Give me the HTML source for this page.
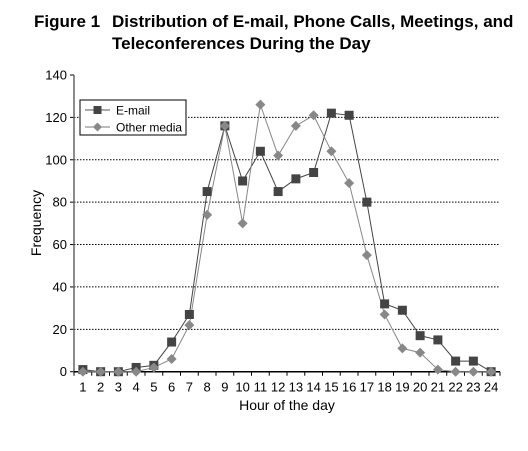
<!DOCTYPE html>
<html><head><meta charset="utf-8"><style>
body{margin:0;background:#fff;width:528px;height:446px;overflow:hidden;font-family:"Liberation Sans",sans-serif}
</style></head><body>
<svg width="528" height="446" xmlns="http://www.w3.org/2000/svg" font-family="Liberation Sans, sans-serif">
<text x="34" y="27" font-size="17" font-weight="bold">Figure 1</text>
<text x="112" y="27" font-size="17" font-weight="bold">Distribution of E-mail, Phone Calls, Meetings, and</text>
<text x="112" y="49" font-size="17" font-weight="bold">Teleconferences During the Day</text>
<g id="grid"></g><g id="axes"></g><g id="series"></g>
<text x="41" y="223" font-size="14" text-anchor="middle" transform="rotate(-90 41 223)">Frequency</text>
<text x="287" y="410" font-size="14" text-anchor="middle">Hour of the day</text>
<g>
<rect x="80" y="100" width="106" height="35" fill="#fff" stroke="#000" stroke-width="1"/>
<line x1="85" y1="110" x2="110" y2="110" stroke="#555"/>
<rect x="93.5" y="106" width="8" height="8" fill="#444"/>
<text x="116" y="114.5" font-size="12">E-mail</text>
<line x1="85" y1="127" x2="110" y2="127" stroke="#777"/>
<path d="M97.5 122.5L102 127L97.5 131.5L93 127Z" fill="#888"/>
<text x="116" y="131.5" font-size="12">Other media</text>
</g>
</svg>
<script>
const hours=[1,2,3,4,5,6,7,8,9,10,11,12,13,14,15,16,17,18,19,20,21,22,23,24];
const email=[1,0,0,2,3,14,27,85,116,90,104,85,91,94,122,121,80,32,29,17,15,5,5,0];
const other=[0,0,0,0,2,6,22,74,116,70,126,102,116,121,104,89,55,27,11,9,1,0,0,0];
const yTicks=[0,20,40,60,80,100,120,140];
const NS='http://www.w3.org/2000/svg';
const X0=74,X1=500,Y0=371.7,Y1=75,YMAX=140;
const bw=(X1-X0)/hours.length;
const xs=i=>X0+bw*(i+0.5);
const ys=v=>Y0-(v/YMAX)*(Y0-Y1);
function mk(p,tag,a){const e=document.createElementNS(NS,tag);for(const k in a)e.setAttribute(k,a[k]);p.appendChild(e);return e;}
const grid=document.getElementById('grid'),axes=document.getElementById('axes'),ser=document.getElementById('series');
yTicks.forEach(t=>{
 const y=ys(t);
 if(t>0&&t<YMAX){const g=mk(grid,'line',{x1:X0,x2:X1,y1:y,y2:y,stroke:'#000','stroke-dasharray':'1.5,1.5','stroke-width':1});
 
 }
 mk(axes,'line',{x1:X0-4,x2:X0,y1:y,y2:y,stroke:'#000'});
 const tx=mk(axes,'text',{x:X0-7,y:y+4.5,'font-size':13,'text-anchor':'end'});tx.textContent=t;
 
 
});
const ya=mk(axes,'line',{x1:X0,x2:X0,y1:Y1,y2:Y0,stroke:'#666','stroke-width':1.5});


const xa=mk(axes,'line',{x1:X0,x2:X1,y1:Y0,y2:Y0,stroke:'#000','stroke-width':1.5});


for(let i=0;i<=hours.length;i++){mk(axes,'line',{x1:X0+bw*i,x2:X0+bw*i,y1:Y0,y2:Y0+4,stroke:'#000'});}
hours.forEach((h,i)=>{const t=mk(axes,'text',{x:xs(i),y:Y0+20,'font-size':13,'text-anchor':'middle'});t.textContent=h;
 
 });
function line(data,col,name){const p=mk(ser,'polyline',{points:data.map((v,i)=>xs(i)+','+ys(v)).join(' '),fill:'none',stroke:col,'stroke-width':1});
 
 }
line(email,'#444','email-line');
line(other,'#888','other-media-line');
email.forEach((v,i)=>{const r=mk(ser,'rect',{x:xs(i)-4.5,y:ys(v)-4.5,width:9,height:9,fill:'#444'});
 
 });
other.forEach((v,i)=>{const x=xs(i),y=ys(v);const d=mk(ser,'path',{d:`M${x} ${y-5}L${x+5} ${y}L${x} ${y+5}L${x-5} ${y}Z`,fill:'#888'});
 
 });
</script>
</body></html>
